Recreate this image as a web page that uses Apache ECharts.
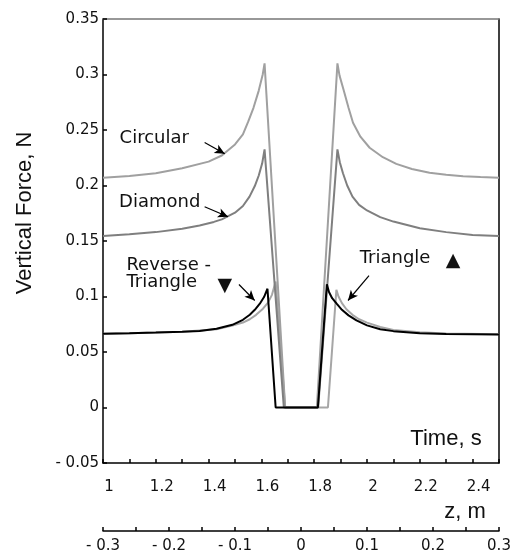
<!DOCTYPE html>
<html>
<head>
<meta charset="utf-8">
<script src="https://cdn.jsdelivr.net/npm/echarts@6/dist/echarts.min.js"></script>
<style>
  html, body { margin: 0; padding: 0; background: #fff; }
  #chart { width: 516px; height: 558px; }
</style>
</head>
<body>
<div id="chart"></div>
<script>
// Vertical force on the magnet versus time for each cross-section shape.
const circularTime  = [1.0, 1.1, 1.2, 1.3, 1.4, 1.45, 1.5, 1.53, 1.55, 1.57, 1.59, 1.605, 1.612, 1.69, 1.81, 1.888, 1.896, 1.912, 1.93, 1.947, 1.975, 2.01, 2.06, 2.111, 2.17, 2.237, 2.3, 2.364, 2.43, 2.5];
const circularForce = [0.207, 0.2085, 0.211, 0.2155, 0.2215, 0.227, 0.237, 0.246, 0.2575, 0.27, 0.2855, 0.3, 0.31, 0, 0, 0.31, 0.299, 0.2855, 0.27, 0.2565, 0.244, 0.234, 0.2255, 0.2195, 0.2148, 0.2114, 0.2097, 0.2084, 0.2076, 0.207];

const diamondTime  = [1.0, 1.1, 1.2, 1.3, 1.366, 1.42, 1.45, 1.5, 1.53, 1.555, 1.575, 1.59, 1.603, 1.612, 1.685, 1.815, 1.888, 1.897, 1.909, 1.925, 1.945, 1.97, 2.0, 2.05, 2.1, 2.2, 2.3, 2.4, 2.5];
const diamondForce = [0.1545, 0.156, 0.158, 0.161, 0.164, 0.1672, 0.1695, 0.1755, 0.1815, 0.19, 0.1995, 0.209, 0.22, 0.2325, 0, 0, 0.2325, 0.221, 0.211, 0.2, 0.19, 0.1825, 0.1775, 0.1715, 0.1675, 0.1615, 0.158, 0.1555, 0.1545];

const triangleTime  = [1.0, 1.1, 1.2, 1.3, 1.43, 1.49, 1.53, 1.556, 1.58, 1.606, 1.625, 1.64, 1.654, 1.69, 1.852, 1.884, 1.892, 1.905, 1.922, 1.945, 1.97, 2.0, 2.05, 2.1, 2.2, 2.3, 2.5];
const triangleForce = [0.0664, 0.0668, 0.0675, 0.0683, 0.0705, 0.0738, 0.0765, 0.0795, 0.0835, 0.089, 0.0945, 0.1015, 0.1135, 0, 0, 0.106, 0.1, 0.094, 0.0885, 0.0835, 0.0795, 0.0765, 0.0725, 0.0698, 0.0677, 0.0667, 0.066];

const reverseTime  = [1.0, 1.1, 1.2, 1.3, 1.366, 1.43, 1.49, 1.53, 1.556, 1.575, 1.594, 1.61, 1.623, 1.654, 1.814, 1.848, 1.856, 1.868, 1.885, 1.905, 1.93, 1.96, 2.0, 2.05, 2.1, 2.2, 2.3, 2.5];
const reverseForce = [0.0664, 0.0668, 0.0675, 0.0683, 0.069, 0.071, 0.0745, 0.079, 0.0835, 0.088, 0.0935, 0.0995, 0.107, 0, 0, 0.111, 0.104, 0.0985, 0.0935, 0.088, 0.083, 0.0785, 0.074, 0.0705, 0.0688, 0.067, 0.0663, 0.0658];

// Tick label values for the two horizontal scales
const timeLabelValues = [1, 1.2, 1.4, 1.6, 1.8, 2, 2.2, 2.4];
const zLabelValues = [-0.3, -0.2, -0.1, 0, 0.1, 0.2, 0.3];

const zip = (xs, ys) => xs.map((x, i) => [x, ys[i]]);
const has = (arr, v) => arr.some(a => Math.abs(a - v) < 1e-6);
const signed = v => (v < 0 ? '- ' + Math.abs(v) : String(v));

const LABEL_FONT = 'DejaVu Sans';
const TITLE_FONT = 'Liberation Sans, Arial, sans-serif';
const INK = '#111';

const chart = echarts.init(document.getElementById('chart'), null, { renderer: 'canvas' });

const tickStyle = { show: true, inside: true, length: 4, lineStyle: { color: '#000', width: 1.5 } };
const lineAxis = { show: true, onZero: false, lineStyle: { color: '#000', width: 1.5 } };

function curve(name, data, color, z) {
  return {
    name, type: 'line', data, xAxisIndex: 0, yAxisIndex: 0,
    showSymbol: false, symbol: 'none', smooth: false, z,
    lineStyle: { color, width: 2 },
    emphasis: { disabled: true }, silent: true
  };
}

const arrowStyle = { color: '#000', width: 1.2, type: 'solid' };
function arrow(from, to, curveness) {
  return [
    { coord: from, lineStyle: Object.assign({}, arrowStyle, { curveness }) },
    { coord: to }
  ];
}

chart.setOption({
  animation: false,
  backgroundColor: '#fff',
  grid: { left: 103, right: 17, top: 19, bottom: 95 },
  xAxis: [
    {
      type: 'value', min: 1, max: 2.5, interval: 0.1, position: 'bottom',
      axisLine: lineAxis, axisTick: tickStyle, splitLine: { show: false },
      axisLabel: {
        margin: 17, color: INK, fontFamily: LABEL_FONT, fontSize: 15,
        padding: [0, 0, 0, 12],
        formatter: v => { const r = Math.round(v * 10) / 10; return has(timeLabelValues, r) ? String(r) : ''; }
      }
    },
    {
      type: 'value', min: -0.3, max: 0.3, interval: 0.05, position: 'bottom', offset: 68,
      axisLine: lineAxis, axisTick: tickStyle, splitLine: { show: false },
      axisLabel: {
        margin: 8, color: INK, fontFamily: LABEL_FONT, fontSize: 15,
        formatter: v => { const r = Math.round(v * 100) / 100; return has(zLabelValues, r) ? signed(r) : ''; }
      }
    },
    {
      type: 'value', min: 0, max: 1, position: 'top',
      axisLine: { show: true, onZero: false, lineStyle: { color: '#777', width: 1.5 } },
      axisTick: { show: false }, axisLabel: { show: false }, splitLine: { show: false }
    }
  ],
  yAxis: [
    {
      type: 'value', min: -0.05, max: 0.35, interval: 0.05, position: 'left',
      axisLine: lineAxis, axisTick: tickStyle, splitLine: { show: false },
      axisLabel: {
        margin: 4, color: INK, fontFamily: LABEL_FONT, fontSize: 15,
        formatter: v => signed(Math.round(v * 100) / 100)
      }
    },
    {
      type: 'value', min: -0.05, max: 0.35, position: 'right',
      axisLine: lineAxis, axisTick: { show: false }, axisLabel: { show: false }, splitLine: { show: false }
    }
  ],
  series: [
    curve('Triangle', zip(triangleTime, triangleForce), '#a6a6a6', 2),
    curve('Circular', zip(circularTime, circularForce), '#a0a0a0', 3),
    curve('Diamond', zip(diamondTime, diamondForce), '#7f7f7f', 4),
    Object.assign(curve('Reverse - Triangle', zip(reverseTime, reverseForce), '#000', 5), {
      markLine: {
        silent: true, animation: false,
        symbol: ['none', 'arrow'], symbolSize: [7, 10],
        label: { show: false },
        data: [
          arrow([1.385, 0.2387], [1.461, 0.2286], 0.35),
          arrow([1.385, 0.1808], [1.4735, 0.1718], 0.3),
          arrow([1.515, 0.1108], [1.5746, 0.0964], 0.05),
          arrow([2.0076, 0.1189], [1.928, 0.0964], 0)
        ]
      }
    })
  ]
});

// Curve annotations, anchored in data space
const px = (t, v) => chart.convertToPixel({ xAxisIndex: 0, yAxisIndex: 0 }, [t, v]);
function note(text, t, v, align, size, font) {
  const p = px(t, v);
  return {
    type: 'text', x: p[0], y: p[1], silent: true,
    style: { text, fill: INK, font: (size || 18) + 'px ' + (font || LABEL_FONT), align: align || 'center', verticalAlign: 'middle' }
  };
}

chart.setOption({
  graphic: [
    note('Circular', 1.194, 0.2422),
    note('Diamond', 1.2148, 0.1851),
    note('Reverse -', 1.0886, 0.1281, 'left'),
    note('Triangle', 1.0886, 0.1131, 'left'),
    note('\u25BC', 1.461, 0.109, 'center', 19),
    note('Triangle', 1.9723, 0.1341, 'left'),
    note('\u25B2', 2.3258, 0.1315, 'center', 19),
    {
      type: 'text', x: 25, y: 213, rotation: Math.PI / 2, silent: true,
      style: { text: 'Vertical Force, N', fill: INK, font: '22px ' + TITLE_FONT, align: 'center', verticalAlign: 'middle' }
    },
    {
      type: 'text', x: 446, y: 439, silent: true,
      style: { text: 'Time, s', fill: INK, font: '22px ' + TITLE_FONT, align: 'center', verticalAlign: 'middle' }
    },
    {
      type: 'text', x: 465, y: 512, silent: true,
      style: { text: 'z, m', fill: INK, font: '22px ' + TITLE_FONT, align: 'center', verticalAlign: 'middle' }
    }
  ]
});
</script>
</body>
</html>
